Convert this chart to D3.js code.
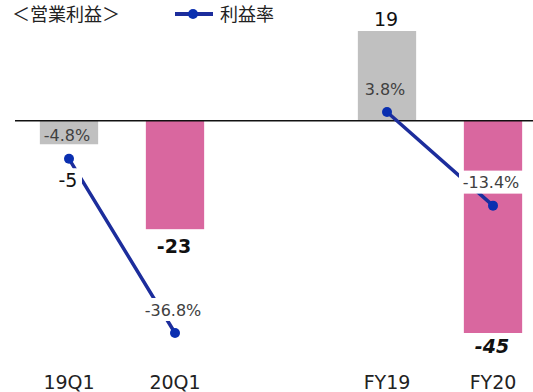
<!DOCTYPE html>
<html><head><meta charset="utf-8">
<script src="https://cdn.jsdelivr.net/npm/d3@7"></script>
<style>body{margin:0;background:#fff}svg{display:block}</style>
</head><body><div id="chart"></div>
<script>
const categories = ["19Q1", "20Q1", "", "FY19", "FY20"];
const fiscalYear = ["2019", "2020", "", "2019", "2020"];
const operatingProfit = [-5, -23, null, 19, -45];
const profitRate = [-4.8, -36.8, null, 3.8, -13.4];
const profitLabels = ["-5", "-23", "", "19", "-45"];
const rateLabels = ["-4.8%", "-36.8%", "", "3.8%", "-13.4%"];
const legendTitle = "＜営業利益＞";
const legendRate = "利益率";

const W = 533, H = 392;
const svg = d3.select("#chart").append("svg").attr("width", W).attr("height", H);
const font = "'DejaVu Sans', Verdana, sans-serif";

const x = d3.scaleBand().domain(categories).range([16, 546]).paddingInner(0.45).paddingOuter(0.225);
const yBar = d3.scaleLinear().domain([-45, 19]).range([333, 31]);
const yRate = d3.scaleLinear().domain([-36.8, 3.8]).range([333, 112]);
const color = d3.scaleOrdinal().domain(["2019", "2020"]).range(["#c0c0c0", "#d9679f"]);

const data = categories.map((c, i) => ({c, fy: fiscalYear[i], v: operatingProfit[i], r: profitRate[i], pl: profitLabels[i], rl: rateLabels[i], i}));

// bars
svg.selectAll("rect.bar").data(data.filter(d => d.v !== null)).join("rect")
  .attr("class", "bar")
  .attr("x", d => x(d.c)).attr("width", x.bandwidth())
  .attr("y", d => Math.min(yBar(d.v), yBar(0)))
  .attr("height", d => Math.abs(yBar(d.v) - yBar(0)))
  .attr("fill", d => color(d.fy));

// zero line
svg.append("line").attr("x1", 15).attr("x2", W).attr("y1", yBar(0)).attr("y2", yBar(0))
  .attr("stroke", "#111").attr("stroke-width", 1.5);

// rate line
const cx = d => x(d.c) + x.bandwidth() / 2;
const line = d3.line().defined(d => d.r !== null).x(cx).y(d => yRate(d.r));
svg.append("path").datum(data).attr("d", line).attr("fill", "none")
  .attr("stroke", "#1c2d9c").attr("stroke-width", 3.5);
svg.selectAll("circle.dot").data(data.filter(d => d.r !== null)).join("circle")
  .attr("class", "dot").attr("cx", cx).attr("cy", d => yRate(d.r)).attr("r", 5)
  .attr("fill", "#0a2fb0");

// rate labels
const rateBg = {"-36.8%": true, "-13.4%": true};
const rl = svg.append("g");
data.filter(d => d.r !== null).forEach(d => {
  const px = cx(d) - 2, py = yRate(d.r) - 23;
  if (rateBg[d.rl]) {
    rl.append("rect").attr("x", px - 32).attr("y", py - 12).attr("width", 64).attr("height", 23).attr("fill", "#fff");
  }
  rl.append("text").attr("x", px).attr("y", py).attr("dy", "0.35em")
    .attr("text-anchor", "middle").attr("font-family", font).attr("font-size", 16)
    .attr("fill", "#404040").text(d.rl);
});

// profit labels
const pStyle = {
  "19Q1": {dy: 36, weight: "normal", italic: false, bg: true},
  "20Q1": {dy: 17, weight: "bold", italic: false, bg: false},
  "FY19": {dy: -12, weight: "normal", italic: false, bg: false},
  "FY20": {dy: 13, weight: "bold", italic: true, bg: false}
};
const pl = svg.append("g");
data.filter(d => d.v !== null).forEach(d => {
  const s = pStyle[d.c];
  const px = cx(d) - 1, py = yBar(d.v) + s.dy;
  if (s.bg) pl.append("rect").attr("x", px - 14).attr("y", py - 12).attr("width", 28).attr("height", 24).attr("fill", "#fff");
  pl.append("text").attr("x", px).attr("y", py).attr("dy", "0.35em")
    .attr("text-anchor", "middle").attr("font-family", font).attr("font-size", 19)
    .attr("font-weight", s.weight).attr("font-style", s.italic ? "italic" : "normal")
    .attr("fill", "#111").text(d.pl);
});

// x axis labels
svg.append("g").selectAll("text").data(categories.filter(c => c)).join("text")
  .attr("x", c => x(c) + x.bandwidth() / 2).attr("y", 382).attr("dy", "0.35em")
  .attr("text-anchor", "middle").attr("font-family", font).attr("font-size", 19)
  .attr("fill", "#222").text(c => c);

// legend
svg.append("text").attr("x", 12).attr("y", 21)
  .attr("font-family", "'Noto Sans CJK JP', sans-serif").attr("font-size", 18)
  .attr("fill", "#222").text(legendTitle);
svg.append("line").attr("x1", 175).attr("x2", 213).attr("y1", 14).attr("y2", 14)
  .attr("stroke", "#1c2d9c").attr("stroke-width", 4);
svg.append("circle").attr("cx", 193).attr("cy", 14).attr("r", 5).attr("fill", "#0a2fb0");
svg.append("text").attr("x", 220).attr("y", 21)
  .attr("font-family", "'Noto Sans CJK JP', sans-serif").attr("font-size", 18)
  .attr("fill", "#222").text(legendRate);
</script></body></html>
